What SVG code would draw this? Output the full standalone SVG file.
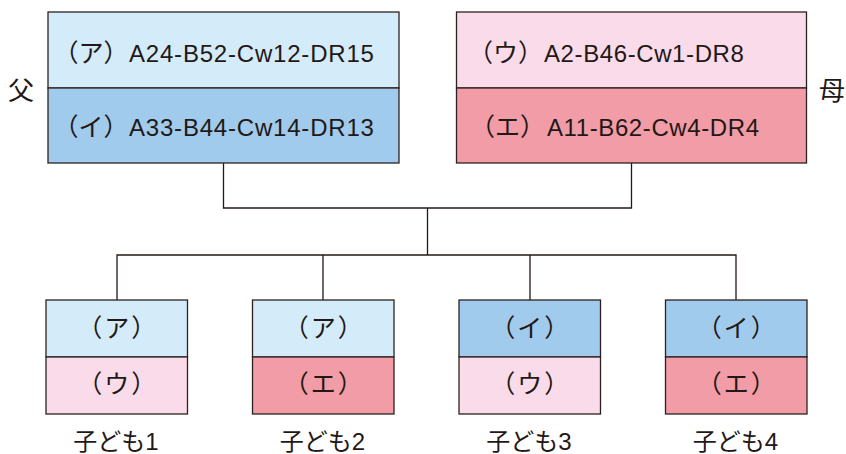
<svg xmlns="http://www.w3.org/2000/svg" width="846" height="454" viewBox="0 0 846 454">
<style>
.t{font-family:"Liberation Sans","Noto Sans CJK JP",sans-serif;font-size:24px;fill:#231815}
.k{font-size:25px;letter-spacing:2px}
.q{font-size:25px}
.p{font-size:26px}
.c{text-anchor:middle}
.b{stroke:#2b2220;stroke-width:1.3}
.ln{fill:none;stroke:#231815;stroke-width:1.3}
.lb{fill:#d4ecf9}.mb{fill:#a0cbec}.lp{fill:#fadbe9}.rp{fill:#f19ca6}
</style>
<rect width="846" height="454" fill="#fff"/>
<g id="connectors">
<path class="ln" d="M223.5 163V208H631.5V163M427.5 208V255M117 300V255H736V300M323 255V300M530 255V300"/>
</g>
<g id="father">
<rect class="lb b" x="48" y="12" width="351" height="76"/>
<rect class="mb b" x="48" y="88" width="351" height="75"/>
<text class="t q" x="53.5" y="62">（ア）</text>
<text class="t" x="129" y="62" letter-spacing="0.8">A24-B52-Cw12-DR15</text>
<text class="t q" x="53.5" y="136">（イ）</text>
<text class="t" x="129" y="136" letter-spacing="0.8">A33-B44-Cw14-DR13</text>
<text class="t p" x="8" y="100">父</text>
</g>
<g id="mother">
<rect class="lp b" x="456.5" y="12" width="350" height="76"/>
<rect class="rp b" x="456.5" y="88" width="350" height="75"/>
<text class="t q" x="468" y="62">（ウ）</text>
<text class="t" x="544" y="62" letter-spacing="0.6">A2-B46-Cw1-DR8</text>
<text class="t q" x="470" y="136">（エ）</text>
<text class="t" x="547" y="136" letter-spacing="0.6">A11-B62-Cw4-DR4</text>
<text class="t p" x="819" y="100">母</text>
</g>
<g id="child1">
<rect class="lb b" x="46" y="300" width="141.5" height="57"/>
<rect class="lp b" x="46" y="357" width="141.5" height="57"/>
<text class="t k c" x="117.75" y="337">（ア）</text>
<text class="t k c" x="117.75" y="393">（ウ）</text>
<text class="t c" x="116" y="450">子ども1</text>
</g>
<g id="child2">
<rect class="lb b" x="252.5" y="300" width="141.5" height="57"/>
<rect class="rp b" x="252.5" y="357" width="141.5" height="57"/>
<text class="t k c" x="324.25" y="337">（ア）</text>
<text class="t k c" x="324.25" y="393">（エ）</text>
<text class="t c" x="322.5" y="450">子ども2</text>
</g>
<g id="child3">
<rect class="mb b" x="459" y="300" width="141.5" height="57"/>
<rect class="lp b" x="459" y="357" width="141.5" height="57"/>
<text class="t k c" x="530.75" y="337">（イ）</text>
<text class="t k c" x="530.75" y="393">（ウ）</text>
<text class="t c" x="529" y="450">子ども3</text>
</g>
<g id="child4">
<rect class="mb b" x="665.5" y="300" width="141.5" height="57"/>
<rect class="rp b" x="665.5" y="357" width="141.5" height="57"/>
<text class="t k c" x="737.25" y="337">（イ）</text>
<text class="t k c" x="737.25" y="393">（エ）</text>
<text class="t c" x="735.5" y="450">子ども4</text>
</g>
</svg>
